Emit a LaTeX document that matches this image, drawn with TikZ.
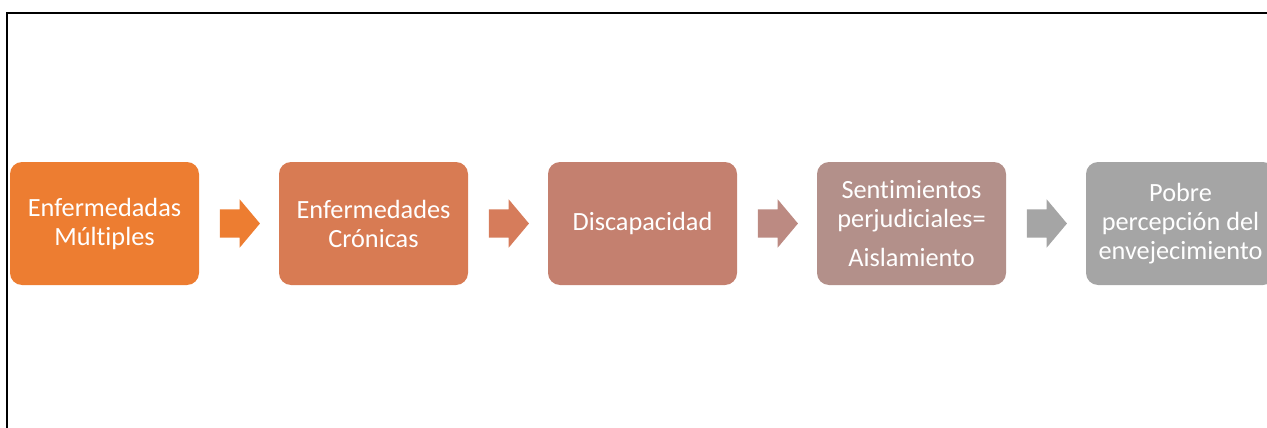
\documentclass[tikz,border=0pt]{standalone}
\usepackage{fontspec}
\setmainfont{Carlito}[Ligatures=NoCommon]
\usetikzlibrary{positioning, shapes.arrows}

\definecolor{tonoA}{HTML}{ED7D31}
\definecolor{tonoB}{HTML}{D87B53}
\definecolor{tonoC}{HTML}{C4806F}
\definecolor{tonoD}{HTML}{B3908A}
\definecolor{tonoE}{HTML}{A5A5A5}
\definecolor{flechaB}{HTML}{D67C5B}
\definecolor{flechaC}{HTML}{BC8A82}

\begin{document}
\begin{tikzpicture}[x=1pt, y=-1pt, node distance=269pt, on grid,
	box/.style={rounded corners=12pt, minimum width=189pt, minimum height=123pt, inner sep=0pt, text=white, align=center, font=\fontsize{26.3}{29}\selectfont},
	flecha/.style={single arrow, minimum height=40pt, inner xsep=0pt, inner ysep=14pt, single arrow head extend=10pt, single arrow tip angle=100}]
	\useasboundingbox (0,0) rectangle (1267,428);
	\draw[line width=2pt] (7,428) -- (7,13) -- (1267,13);
	
	\node[box, fill=tonoA] (b_1) at (104.5,223.5) {Enfermedadas\\Múltiples};
	\node[box, fill=tonoB, right=of b_1] (b_2) {Enfermedades\\Crónicas};
	\node[box, fill=tonoC, right=of b_2] (b_3) {Discapacidad};
	\node[box, fill=tonoD, right=of b_3] (b_4) {Sentimientos\\perjudiciales=\\[10pt]Aislamiento};
	\node[box, fill=tonoE, right=of b_4] (b_5) {Pobre\\percepción del\\envejecimiento};
	
	\node[flecha, fill=tonoA, right=129.5pt of b_1] (f_1) {};
	\node[flecha, fill=flechaB, right=129.5pt of b_2] (f_2) {};
	\node[flecha, fill=flechaC, right=129.5pt of b_3] (f_3) {};
	\node[flecha, fill=tonoE, right=129.5pt of b_4] (f_4) {};
\end{tikzpicture}
\end{document}
